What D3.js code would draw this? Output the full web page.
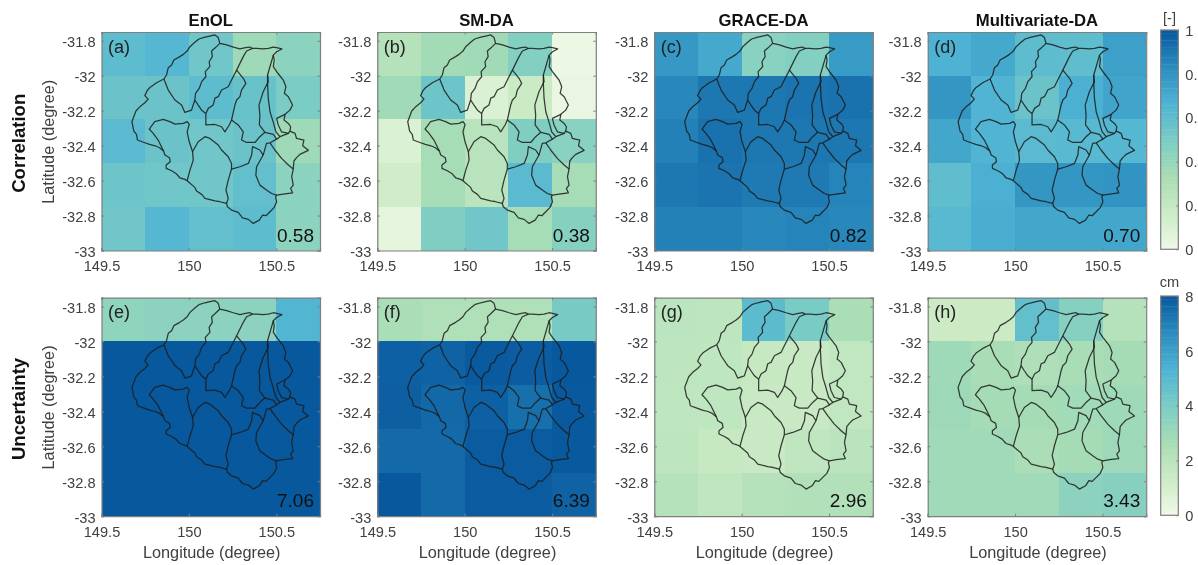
<!DOCTYPE html>
<html><head><meta charset="utf-8">
<script src="https://cdn.jsdelivr.net/npm/d3@7"></script>
<style>
html,body{margin:0;padding:0;background:#fff;overflow:hidden}
svg{display:block;filter:blur(0.35px)}
text{font-family:"Liberation Sans",Arial,sans-serif}
</style></head><body>
<svg id="chart" width="1198" height="565"></svg>
<script>
// ---------- cell edges (degrees) ----------
const lonEdges = [149.5,149.75,150,150.25,150.5,150.75];
const latEdges = [-31.75,-32,-32.25,-32.5,-32.75,-33];
const lonTicks = [149.5,150,150.5];
const latTicks = [-31.8,-32,-32.2,-32.4,-32.6,-32.8,-33];

// ---------- panel values (rows north to south, columns west to east) ----------
const corrEnOL = [[.61,.64,.54,.37,.44],[.56,.56,.61,.57,.5],[.62,.56,.54,.56,.37],[.55,.54,.54,.59,.44],[.54,.64,.59,.61,.44]];
const corrSM   = [[.27,.35,.36,.47,.02],[.36,.55,.1,.17,.03],[.1,.34,.26,.48,.45],[.15,.34,.25,.62,.34],[.05,.48,.54,.34,.46]];
const corrGRACE= [[.78,.71,.45,.47,.77],[.85,.9,.9,.91,.92],[.87,.92,.9,.9,.9],[.9,.91,.89,.89,.86],[.87,.87,.85,.86,.85]];
const corrMulti= [[.67,.71,.61,.6,.75],[.79,.66,.56,.68,.73],[.72,.66,.62,.63,.64],[.6,.68,.79,.79,.8],[.63,.69,.72,.72,.72]];
const uncEnOL  = [[3.4,3.5,3.5,3.5,5.2],[8,8,8,8,8],[8,8,8,8,8],[8,8,8,8,8],[8,8,8,8,8]];
const uncSM    = [[2.6,2.4,2.4,2.4,4.1],[7.8,7.72,7.95,7.9,8],[7.82,7.6,7.8,7.42,7.98],[7.55,7.55,7.92,7.92,7.97],[8,7.55,7.92,7.92,7.75]];
const uncGRACE = [[1.95,1.9,4.9,4.05,2.6],[1.9,1.85,1.55,1.5,1.75],[1.85,1.85,1.5,1.5,1.75],[1.9,1.55,1.5,1.8,2],[2.2,1.8,2.15,2.3,2.3]];
const uncMulti = [[1.35,1.35,4.7,3.7,2.2],[2.95,2.65,2.45,2.65,2.75],[3,2.75,2.75,2.85,2.95],[2.9,2.9,2.55,2.75,3],[2.9,2.9,2.9,3.5,3.65]];

// ---------- labels ----------
const methods = ["EnOL","SM-DA","GRACE-DA","Multivariate-DA"];
const rowNames = ["Correlation","Uncertainty"];
const panelTags = ["(a)","(b)","(c)","(d)","(e)","(f)","(g)","(h)"];
const panelMeans = ["0.58","0.38","0.82","0.70","7.06","6.39","2.96","3.43"];
const corrBarTicks = [0,.2,.4,.6,.8,1];
const uncBarTicks = [0,2,4,6,8];

// ---------- catchment boundaries (lon, lat) ----------
const outerBasin = [[150.057,-31.79],[150.092,-31.779],[150.12,-31.773],[150.149,-31.767],[150.168,-31.782],[150.177,-31.815],[150.216,-31.824],[150.254,-31.836],[150.292,-31.847],[150.324,-31.84],[150.349,-31.836],[150.364,-31.844],[150.387,-31.844],[150.425,-31.847],[150.454,-31.844],[150.483,-31.836],[150.502,-31.84],[150.532,-31.847],[150.502,-31.863],[150.483,-31.882],[150.488,-31.91],[150.483,-31.948],[150.502,-31.977],[150.517,-31.996],[150.54,-32.025],[150.555,-32.063],[150.546,-32.101],[150.569,-32.12],[150.593,-32.168],[150.578,-32.197],[150.55,-32.221],[150.544,-32.254],[150.569,-32.273],[150.582,-32.292],[150.578,-32.317],[150.607,-32.33],[150.616,-32.359],[150.658,-32.368],[150.651,-32.401],[150.683,-32.427],[150.635,-32.45],[150.616,-32.469],[150.601,-32.488],[150.597,-32.534],[150.588,-32.578],[150.597,-32.626],[150.582,-32.645],[150.593,-32.67],[150.54,-32.677],[150.502,-32.683],[150.496,-32.693],[150.502,-32.721],[150.487,-32.755],[150.464,-32.778],[150.441,-32.801],[150.422,-32.797],[150.403,-32.826],[150.368,-32.845],[150.34,-32.822],[150.307,-32.813],[150.282,-32.782],[150.244,-32.769],[150.221,-32.75],[150.215,-32.731],[150.177,-32.721],[150.149,-32.716],[150.092,-32.702],[150.073,-32.679],[150.044,-32.66],[150.034,-32.639],[149.99,-32.601],[149.977,-32.593],[149.948,-32.584],[149.926,-32.559],[149.901,-32.544],[149.87,-32.53],[149.87,-32.511],[149.893,-32.492],[149.889,-32.469],[149.863,-32.454],[149.855,-32.431],[149.832,-32.412],[149.807,-32.401],[149.775,-32.393],[149.744,-32.382],[149.706,-32.368],[149.7,-32.336],[149.685,-32.317],[149.674,-32.263],[149.697,-32.202],[149.72,-32.177],[149.748,-32.155],[149.767,-32.134],[149.748,-32.114],[149.761,-32.086],[149.777,-32.067],[149.815,-32.04],[149.857,-32.019],[149.872,-31.996],[149.882,-31.954],[149.901,-31.939],[149.914,-31.91],[149.948,-31.891],[149.968,-31.878],[149.99,-31.859],[150.006,-31.834],[150.034,-31.809],[150.057,-31.79]];
const divideA = [[150.177,-31.815],[150.149,-31.842],[150.13,-31.859],[150.134,-31.891],[150.116,-31.92],[150.12,-31.948],[150.094,-31.977],[150.097,-32.006],[150.073,-32.034],[150.059,-32.073],[150.038,-32.101],[150.034,-32.139],[150.053,-32.168],[150.073,-32.197],[150.097,-32.216]];
const divideB = [[149.857,-32.019],[149.882,-32.082],[149.92,-32.139],[149.958,-32.168],[149.977,-32.21],[150.015,-32.197],[150.034,-32.139]];
const divideC = [[150.364,-31.844],[150.33,-31.859],[150.311,-31.891],[150.273,-31.968],[150.244,-32.025],[150.225,-32.063],[150.187,-32.082],[150.168,-32.12],[150.149,-32.128],[150.139,-32.168],[150.111,-32.187],[150.097,-32.216]];
const divideD = [[150.097,-32.216],[150.097,-32.282],[150.149,-32.279],[150.187,-32.292],[150.206,-32.321],[150.231,-32.282],[150.244,-32.254],[150.263,-32.168],[150.273,-32.139],[150.292,-32.12],[150.301,-32.082],[150.326,-32.044],[150.311,-32.015],[150.273,-31.968]];
const divideE = [[150.244,-32.254],[150.282,-32.282],[150.311,-32.321],[150.301,-32.368],[150.33,-32.382],[150.378,-32.382],[150.406,-32.349],[150.435,-32.324]];
const divideF = [[150.435,-32.324],[150.403,-32.282],[150.406,-32.225],[150.401,-32.168],[150.425,-32.092],[150.454,-32.034],[150.45,-31.996],[150.483,-31.882]];
const divideG = [[150.45,-31.996],[150.45,-32.044],[150.454,-32.13],[150.464,-32.206],[150.479,-32.254],[150.498,-32.321],[150.521,-32.349]];
const divideH = [[150.435,-32.324],[150.483,-32.336],[150.502,-32.363],[150.521,-32.349],[150.569,-32.33],[150.578,-32.317]];
const divideI = [[150.55,-32.221],[150.502,-32.244],[150.511,-32.282],[150.53,-32.321],[150.569,-32.33]];
const divideJ = [[150.502,-32.363],[150.464,-32.384],[150.444,-32.387],[150.425,-32.454]];
const divideK = [[150.464,-32.384],[150.492,-32.425],[150.53,-32.473],[150.569,-32.511],[150.597,-32.534]];
const divideL = [[150.425,-32.454],[150.387,-32.521],[150.383,-32.569],[150.406,-32.626],[150.444,-32.654],[150.473,-32.674],[150.502,-32.683]];
const divideM = [[150.425,-32.454],[150.406,-32.425],[150.364,-32.406],[150.359,-32.454],[150.34,-32.502],[150.292,-32.521],[150.244,-32.534]];
const divideN = [[150.244,-32.534],[150.225,-32.597],[150.212,-32.654],[150.225,-32.702],[150.215,-32.731]];
const divideO = [[150.244,-32.534],[150.244,-32.502],[150.225,-32.464],[150.187,-32.425],[150.168,-32.397],[150.12,-32.359],[150.092,-32.349],[150.053,-32.378],[150.021,-32.435],[150.025,-32.483],[150.006,-32.54],[149.99,-32.601]];
const divideP = [[150.021,-32.435],[150.002,-32.378],[149.99,-32.321],[150.002,-32.279],[149.99,-32.263],[149.968,-32.273],[149.92,-32.277],[149.891,-32.263],[149.853,-32.25],[149.805,-32.263],[149.773,-32.305],[149.796,-32.33],[149.824,-32.368],[149.855,-32.431]];
const basinLines = [outerBasin,divideA,divideB,divideC,divideD,divideE,divideF,divideG,divideH,divideI,divideJ,divideK,divideL,divideM,divideN,divideO,divideP];

const panelGrids = [corrEnOL,corrSM,corrGRACE,corrMulti,uncEnOL,uncSM,uncGRACE,uncMulti];

// ---------- layout ----------
const colLeft = [101.5,377.3,654.3,927.7];
const rowTop = [32,297.7];
const side = 218.5;
const ink = "#404040", frame = "#7f7f7f";

const paletteStops = ["#f0f9e8","#ccebc5","#a8ddb5","#7bccc4","#4eb3d3","#2b8cbe","#08589e"];
const colorUnit = d3.scaleLinear().domain(d3.range(7).map(i=>i/6)).range(paletteStops).interpolate(d3.interpolateRgb).clamp(true);

const svg = d3.select("#chart");
const x = d3.scaleLinear().domain([149.5,150.75]).range([0,side]);
const y = d3.scaleLinear().domain([-31.75,-33]).range([0,side]);
const line = d3.line().x(d=>x(d[0])).y(d=>y(d[1]));

panelGrids.forEach((grid,idx)=>{
  const col = idx%4, row = Math.floor(idx/4);
  const maxV = row===0 ? 1 : 8;
  const g = svg.append("g").attr("transform",`translate(${colLeft[col]},${rowTop[row]})`);
  const cells = grid.flatMap((vals,r)=>vals.map((v,c)=>({v,r,c})));
  g.selectAll("rect.cell").data(cells).join("rect").attr("class","cell")
    .attr("x",d=>x(lonEdges[d.c])).attr("y",d=>y(latEdges[d.r]))
    .attr("width",d=>x(lonEdges[d.c+1])-x(lonEdges[d.c]))
    .attr("height",d=>y(latEdges[d.r+1])-y(latEdges[d.r]))
    .attr("shape-rendering","crispEdges")
    .attr("fill",d=>colorUnit(d.v/maxV));
  g.selectAll("path.basin").data(basinLines).join("path").attr("class","basin")
    .attr("d",line).attr("fill","none").attr("stroke","#1c1c1c").attr("stroke-opacity",.85)
    .attr("stroke-width",1.25).attr("stroke-linejoin","round");

  const tickLen = -2.5;
  const axes = [
    g.append("g").call(d3.axisLeft(y).tickValues(latTicks).tickSize(tickLen).tickPadding(6).tickFormat(String)),
    g.append("g").attr("transform",`translate(0,${side})`).call(d3.axisBottom(x).tickValues(lonTicks).tickSize(tickLen).tickPadding(10).tickFormat(String)),
    g.append("g").attr("transform",`translate(${side},0)`).call(d3.axisRight(y).tickValues(latTicks).tickSize(tickLen).tickFormat("")),
    g.append("g").call(d3.axisTop(x).tickValues(lonTicks).tickSize(tickLen).tickFormat(""))
  ];
  axes.forEach(a=>{
    a.select(".domain").attr("stroke",frame).attr("stroke-width",1.2);
    a.selectAll(".tick line").attr("stroke",frame);
    a.selectAll("text").attr("fill",ink).style("font-size","14.6px").style("font-family",'"Liberation Sans",Arial,sans-serif');
  });
  axes[0].selectAll("text").attr("dy","0.42em");

  g.append("text").attr("x",6.5).attr("y",20.5).attr("fill","#222").style("font-size","18px").text(panelTags[idx]);
  g.append("text").attr("x",side-6).attr("y",209.5).attr("text-anchor","end").attr("fill","#111").style("font-size","19px").text(panelMeans[idx]);

  if(row===0) g.append("text").attr("x",side/2).attr("y",-6).attr("text-anchor","middle").attr("fill","#111")
      .style("font-size","16.7px").style("font-weight","bold").text(methods[col]);
  if(row===1) g.append("text").attr("x",side/2+1).attr("y",side+41.5).attr("text-anchor","middle").attr("fill",ink)
      .style("font-size","16.3px").text("Longitude (degree)");
  if(col===0){
    g.append("text").attr("transform",`translate(-47.5,${side/2+0.5})rotate(-90)`).attr("text-anchor","middle").attr("fill",ink)
      .style("font-size","16.3px").text("Latitude (degree)");
    g.append("text").attr("transform",`translate(-77,${side/2+2})rotate(-90)`).attr("text-anchor","middle").attr("fill","#111")
      .style("font-size","18.6px").style("font-weight","bold").text(rowNames[row]);
  }
});

// ---------- colour bars ----------
const barLeft = 1160.7, barWidth = 17.6, barHeight = 219.3;
const barLevels = d3.range(64).map(i=>(i+.5)/64);
[{top:30,max:1,ticks:corrBarTicks,unit:"[-]",unitY:-7},{top:296,max:8,ticks:uncBarTicks,unit:"cm",unitY:-9}].forEach(b=>{
  const g = svg.append("g").attr("transform",`translate(${barLeft},${b.top})`);
  const s = d3.scaleLinear().domain([0,b.max]).range([barHeight,0]);
  const u = d3.scaleLinear().domain([0,1]).range([barHeight,0]);
  g.selectAll("rect").data(barLevels).join("rect")
    .attr("x",0).attr("width",barWidth)
    .attr("y",d=>u(d+.5/64)).attr("height",barHeight/64+.4)
    .attr("fill",d=>colorUnit(d));
  const a = g.append("g").attr("transform",`translate(${barWidth},0)`)
    .call(d3.axisRight(s).tickValues(b.ticks).tickSize(-2).tickPadding(7).tickFormat(String));
  a.select(".domain").remove();
  a.selectAll(".tick line").attr("stroke",frame);
  a.selectAll("text").attr("fill",ink).style("font-size","14.6px").style("font-family",'"Liberation Sans",Arial,sans-serif').attr("dy","0.36em");
  g.append("rect").attr("width",barWidth).attr("height",barHeight).attr("fill","none").attr("stroke",frame).attr("stroke-width",1.2);
  g.append("text").attr("x",barWidth/2).attr("y",b.unitY).attr("text-anchor","middle").attr("fill",ink).style("font-size","14.6px").text(b.unit);
});
</script></body></html>
